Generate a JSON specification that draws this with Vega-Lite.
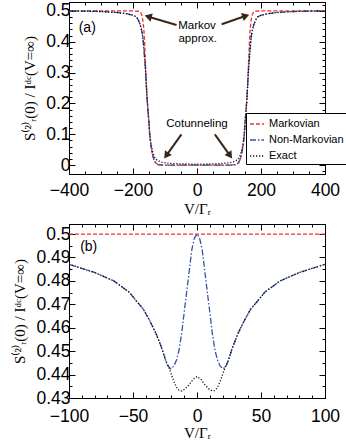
{
  "$schema": "https://vega.github.io/schema/vega-lite/v6.json",
  "padding": {"left": 12, "top": 1, "right": 0, "bottom": 0},
  "background": "white",
  "spacing": 6,
  "datasets": {
    "top": [
      {"V": -400, "S": 0.5, "c": "Markovian"}, {"V": -300, "S": 0.5, "c": "Markovian"}, {"V": -200, "S": 0.5, "c": "Markovian"},
      {"V": -180, "S": 0.499, "c": "Markovian"}, {"V": -176, "S": 0.495, "c": "Markovian"}, {"V": -172, "S": 0.485, "c": "Markovian"},
      {"V": -169, "S": 0.468, "c": "Markovian"}, {"V": -166, "S": 0.44, "c": "Markovian"}, {"V": -164, "S": 0.403, "c": "Markovian"},
      {"V": -161, "S": 0.33, "c": "Markovian"}, {"V": -158.5, "S": 0.263, "c": "Markovian"}, {"V": -156, "S": 0.215, "c": "Markovian"},
      {"V": -153, "S": 0.175, "c": "Markovian"}, {"V": -150, "S": 0.135, "c": "Markovian"}, {"V": -148, "S": 0.1, "c": "Markovian"},
      {"V": -145, "S": 0.072, "c": "Markovian"}, {"V": -143, "S": 0.056, "c": "Markovian"}, {"V": -139, "S": 0.033, "c": "Markovian"},
      {"V": -135, "S": 0.019, "c": "Markovian"}, {"V": -130, "S": 0.008, "c": "Markovian"}, {"V": -122, "S": 0.002, "c": "Markovian"},
      {"V": -110, "S": 0.0005, "c": "Markovian"}, {"V": -100, "S": 0, "c": "Markovian"}, {"V": 0, "S": 0, "c": "Markovian"},
      {"V": 100, "S": 0, "c": "Markovian"}, {"V": 110, "S": 0.0005, "c": "Markovian"}, {"V": 122, "S": 0.002, "c": "Markovian"},
      {"V": 130, "S": 0.008, "c": "Markovian"}, {"V": 135, "S": 0.019, "c": "Markovian"}, {"V": 139, "S": 0.033, "c": "Markovian"},
      {"V": 143, "S": 0.056, "c": "Markovian"}, {"V": 145, "S": 0.072, "c": "Markovian"}, {"V": 148, "S": 0.1, "c": "Markovian"},
      {"V": 150, "S": 0.135, "c": "Markovian"}, {"V": 153, "S": 0.175, "c": "Markovian"}, {"V": 156, "S": 0.215, "c": "Markovian"},
      {"V": 158.5, "S": 0.263, "c": "Markovian"}, {"V": 161, "S": 0.33, "c": "Markovian"}, {"V": 164, "S": 0.403, "c": "Markovian"},
      {"V": 166, "S": 0.44, "c": "Markovian"}, {"V": 169, "S": 0.468, "c": "Markovian"}, {"V": 172, "S": 0.485, "c": "Markovian"},
      {"V": 176, "S": 0.495, "c": "Markovian"}, {"V": 180, "S": 0.499, "c": "Markovian"}, {"V": 200, "S": 0.5, "c": "Markovian"},
      {"V": 300, "S": 0.5, "c": "Markovian"}, {"V": 400, "S": 0.5, "c": "Markovian"},

      {"V": -400, "S": 0.5, "c": "Non-Markovian"}, {"V": -350, "S": 0.4995, "c": "Non-Markovian"}, {"V": -300, "S": 0.498, "c": "Non-Markovian"},
      {"V": -250, "S": 0.495, "c": "Non-Markovian"}, {"V": -220, "S": 0.491, "c": "Non-Markovian"}, {"V": -200, "S": 0.486, "c": "Non-Markovian"},
      {"V": -190, "S": 0.481, "c": "Non-Markovian"}, {"V": -184, "S": 0.472, "c": "Non-Markovian"}, {"V": -178, "S": 0.457, "c": "Non-Markovian"},
      {"V": -174, "S": 0.442, "c": "Non-Markovian"}, {"V": -170, "S": 0.42, "c": "Non-Markovian"}, {"V": -167, "S": 0.39, "c": "Non-Markovian"},
      {"V": -164, "S": 0.35, "c": "Non-Markovian"}, {"V": -161, "S": 0.31, "c": "Non-Markovian"}, {"V": -158.5, "S": 0.263, "c": "Non-Markovian"},
      {"V": -156, "S": 0.215, "c": "Non-Markovian"}, {"V": -153, "S": 0.175, "c": "Non-Markovian"}, {"V": -150, "S": 0.135, "c": "Non-Markovian"},
      {"V": -148, "S": 0.1, "c": "Non-Markovian"}, {"V": -145, "S": 0.07, "c": "Non-Markovian"}, {"V": -142, "S": 0.05, "c": "Non-Markovian"},
      {"V": -138, "S": 0.03, "c": "Non-Markovian"}, {"V": -134, "S": 0.016, "c": "Non-Markovian"}, {"V": -130, "S": 0.007, "c": "Non-Markovian"},
      {"V": -125, "S": 0.003, "c": "Non-Markovian"}, {"V": -120, "S": 0.001, "c": "Non-Markovian"}, {"V": -110, "S": 0, "c": "Non-Markovian"},
      {"V": 0, "S": 0, "c": "Non-Markovian"},
      {"V": 110, "S": 0, "c": "Non-Markovian"}, {"V": 120, "S": 0.001, "c": "Non-Markovian"}, {"V": 125, "S": 0.003, "c": "Non-Markovian"},
      {"V": 130, "S": 0.007, "c": "Non-Markovian"}, {"V": 134, "S": 0.016, "c": "Non-Markovian"}, {"V": 138, "S": 0.03, "c": "Non-Markovian"},
      {"V": 142, "S": 0.05, "c": "Non-Markovian"}, {"V": 145, "S": 0.07, "c": "Non-Markovian"}, {"V": 148, "S": 0.1, "c": "Non-Markovian"},
      {"V": 150, "S": 0.135, "c": "Non-Markovian"}, {"V": 153, "S": 0.175, "c": "Non-Markovian"}, {"V": 156, "S": 0.215, "c": "Non-Markovian"},
      {"V": 158.5, "S": 0.263, "c": "Non-Markovian"}, {"V": 161, "S": 0.31, "c": "Non-Markovian"}, {"V": 164, "S": 0.35, "c": "Non-Markovian"},
      {"V": 167, "S": 0.39, "c": "Non-Markovian"}, {"V": 170, "S": 0.42, "c": "Non-Markovian"}, {"V": 174, "S": 0.442, "c": "Non-Markovian"},
      {"V": 178, "S": 0.457, "c": "Non-Markovian"}, {"V": 184, "S": 0.472, "c": "Non-Markovian"}, {"V": 190, "S": 0.481, "c": "Non-Markovian"},
      {"V": 200, "S": 0.486, "c": "Non-Markovian"}, {"V": 220, "S": 0.491, "c": "Non-Markovian"}, {"V": 250, "S": 0.495, "c": "Non-Markovian"},
      {"V": 300, "S": 0.498, "c": "Non-Markovian"}, {"V": 350, "S": 0.4995, "c": "Non-Markovian"}, {"V": 400, "S": 0.5, "c": "Non-Markovian"},

      {"V": -400, "S": 0.5, "c": "Exact"}, {"V": -350, "S": 0.4995, "c": "Exact"}, {"V": -300, "S": 0.498, "c": "Exact"},
      {"V": -250, "S": 0.495, "c": "Exact"}, {"V": -220, "S": 0.491, "c": "Exact"}, {"V": -200, "S": 0.486, "c": "Exact"},
      {"V": -190, "S": 0.481, "c": "Exact"}, {"V": -184, "S": 0.472, "c": "Exact"}, {"V": -178, "S": 0.457, "c": "Exact"},
      {"V": -174, "S": 0.442, "c": "Exact"}, {"V": -170, "S": 0.42, "c": "Exact"}, {"V": -167, "S": 0.39, "c": "Exact"},
      {"V": -164, "S": 0.35, "c": "Exact"}, {"V": -161, "S": 0.31, "c": "Exact"}, {"V": -158.5, "S": 0.263, "c": "Exact"},
      {"V": -156, "S": 0.216, "c": "Exact"}, {"V": -153, "S": 0.177, "c": "Exact"}, {"V": -150, "S": 0.138, "c": "Exact"},
      {"V": -148, "S": 0.106, "c": "Exact"}, {"V": -145, "S": 0.079, "c": "Exact"}, {"V": -142, "S": 0.06, "c": "Exact"},
      {"V": -138, "S": 0.042, "c": "Exact"}, {"V": -134, "S": 0.029, "c": "Exact"}, {"V": -130, "S": 0.021, "c": "Exact"},
      {"V": -125, "S": 0.016, "c": "Exact"}, {"V": -117, "S": 0.012, "c": "Exact"}, {"V": -110, "S": 0.0095, "c": "Exact"},
      {"V": -100, "S": 0.0075, "c": "Exact"}, {"V": -90, "S": 0.0062, "c": "Exact"}, {"V": -75, "S": 0.005, "c": "Exact"},
      {"V": -50, "S": 0.0038, "c": "Exact"}, {"V": -25, "S": 0.0032, "c": "Exact"}, {"V": 0, "S": 0.003, "c": "Exact"},
      {"V": 25, "S": 0.0032, "c": "Exact"}, {"V": 50, "S": 0.0038, "c": "Exact"}, {"V": 75, "S": 0.005, "c": "Exact"},
      {"V": 90, "S": 0.0062, "c": "Exact"}, {"V": 100, "S": 0.0075, "c": "Exact"}, {"V": 110, "S": 0.0095, "c": "Exact"},
      {"V": 117, "S": 0.012, "c": "Exact"}, {"V": 125, "S": 0.016, "c": "Exact"}, {"V": 130, "S": 0.021, "c": "Exact"},
      {"V": 134, "S": 0.029, "c": "Exact"}, {"V": 138, "S": 0.042, "c": "Exact"}, {"V": 142, "S": 0.06, "c": "Exact"},
      {"V": 145, "S": 0.079, "c": "Exact"}, {"V": 148, "S": 0.106, "c": "Exact"}, {"V": 150, "S": 0.138, "c": "Exact"},
      {"V": 153, "S": 0.177, "c": "Exact"}, {"V": 156, "S": 0.216, "c": "Exact"}, {"V": 158.5, "S": 0.263, "c": "Exact"},
      {"V": 161, "S": 0.31, "c": "Exact"}, {"V": 164, "S": 0.35, "c": "Exact"}, {"V": 167, "S": 0.39, "c": "Exact"},
      {"V": 170, "S": 0.42, "c": "Exact"}, {"V": 174, "S": 0.442, "c": "Exact"}, {"V": 178, "S": 0.457, "c": "Exact"},
      {"V": 184, "S": 0.472, "c": "Exact"}, {"V": 190, "S": 0.481, "c": "Exact"}, {"V": 200, "S": 0.486, "c": "Exact"},
      {"V": 220, "S": 0.491, "c": "Exact"}, {"V": 250, "S": 0.495, "c": "Exact"}, {"V": 300, "S": 0.498, "c": "Exact"},
      {"V": 350, "S": 0.4995, "c": "Exact"}, {"V": 400, "S": 0.5, "c": "Exact"}
    ],
    "bottom": [
      {"V": -100, "S": 0.5, "c": "Markovian"}, {"V": 0, "S": 0.5, "c": "Markovian"}, {"V": 100, "S": 0.5, "c": "Markovian"},

      {"V": -100, "S": 0.4871, "c": "Non-Markovian"}, {"V": -80, "S": 0.4836, "c": "Non-Markovian"}, {"V": -65, "S": 0.48, "c": "Non-Markovian"},
      {"V": -53, "S": 0.4752, "c": "Non-Markovian"}, {"V": -47, "S": 0.4712, "c": "Non-Markovian"}, {"V": -42, "S": 0.468, "c": "Non-Markovian"},
      {"V": -37, "S": 0.4631, "c": "Non-Markovian"}, {"V": -32, "S": 0.4575, "c": "Non-Markovian"}, {"V": -28, "S": 0.452, "c": "Non-Markovian"},
      {"V": -25, "S": 0.447, "c": "Non-Markovian"}, {"V": -23, "S": 0.444, "c": "Non-Markovian"}, {"V": -20.5, "S": 0.4424, "c": "Non-Markovian"},
      {"V": -18, "S": 0.4437, "c": "Non-Markovian"}, {"V": -16, "S": 0.4462, "c": "Non-Markovian"}, {"V": -14, "S": 0.4505, "c": "Non-Markovian"},
      {"V": -12, "S": 0.4575, "c": "Non-Markovian"}, {"V": -10, "S": 0.4666, "c": "Non-Markovian"}, {"V": -8, "S": 0.4755, "c": "Non-Markovian"},
      {"V": -6, "S": 0.4845, "c": "Non-Markovian"}, {"V": -4, "S": 0.4935, "c": "Non-Markovian"}, {"V": -2, "S": 0.4983, "c": "Non-Markovian"},
      {"V": 0, "S": 0.5, "c": "Non-Markovian"},
      {"V": 2, "S": 0.4983, "c": "Non-Markovian"}, {"V": 4, "S": 0.4935, "c": "Non-Markovian"}, {"V": 6, "S": 0.4845, "c": "Non-Markovian"},
      {"V": 8, "S": 0.4755, "c": "Non-Markovian"}, {"V": 10, "S": 0.4666, "c": "Non-Markovian"}, {"V": 12, "S": 0.4575, "c": "Non-Markovian"},
      {"V": 14, "S": 0.4505, "c": "Non-Markovian"}, {"V": 16, "S": 0.4462, "c": "Non-Markovian"}, {"V": 18, "S": 0.4437, "c": "Non-Markovian"},
      {"V": 20.5, "S": 0.4424, "c": "Non-Markovian"}, {"V": 23, "S": 0.444, "c": "Non-Markovian"}, {"V": 25, "S": 0.447, "c": "Non-Markovian"},
      {"V": 28, "S": 0.452, "c": "Non-Markovian"}, {"V": 32, "S": 0.4575, "c": "Non-Markovian"}, {"V": 37, "S": 0.4631, "c": "Non-Markovian"},
      {"V": 42, "S": 0.468, "c": "Non-Markovian"}, {"V": 47, "S": 0.4712, "c": "Non-Markovian"}, {"V": 53, "S": 0.4752, "c": "Non-Markovian"},
      {"V": 65, "S": 0.48, "c": "Non-Markovian"}, {"V": 80, "S": 0.4836, "c": "Non-Markovian"}, {"V": 100, "S": 0.4871, "c": "Non-Markovian"},

      {"V": -100, "S": 0.4871, "c": "Exact"}, {"V": -80, "S": 0.4836, "c": "Exact"}, {"V": -65, "S": 0.48, "c": "Exact"},
      {"V": -53, "S": 0.4752, "c": "Exact"}, {"V": -47, "S": 0.4712, "c": "Exact"}, {"V": -42, "S": 0.468, "c": "Exact"},
      {"V": -37, "S": 0.4631, "c": "Exact"}, {"V": -32, "S": 0.4575, "c": "Exact"}, {"V": -28, "S": 0.452, "c": "Exact"},
      {"V": -25, "S": 0.447, "c": "Exact"}, {"V": -24, "S": 0.4452, "c": "Exact"}, {"V": -22, "S": 0.4432, "c": "Exact"},
      {"V": -20, "S": 0.44, "c": "Exact"}, {"V": -18, "S": 0.437, "c": "Exact"}, {"V": -16, "S": 0.4345, "c": "Exact"},
      {"V": -14, "S": 0.4332, "c": "Exact"}, {"V": -12, "S": 0.433, "c": "Exact"}, {"V": -9, "S": 0.434, "c": "Exact"},
      {"V": -6, "S": 0.4358, "c": "Exact"}, {"V": -3, "S": 0.438, "c": "Exact"}, {"V": 0, "S": 0.4392, "c": "Exact"},
      {"V": 3, "S": 0.438, "c": "Exact"}, {"V": 6, "S": 0.4358, "c": "Exact"}, {"V": 9, "S": 0.434, "c": "Exact"},
      {"V": 12, "S": 0.433, "c": "Exact"}, {"V": 14, "S": 0.4332, "c": "Exact"}, {"V": 16, "S": 0.4345, "c": "Exact"},
      {"V": 18, "S": 0.437, "c": "Exact"}, {"V": 20, "S": 0.44, "c": "Exact"}, {"V": 22, "S": 0.4432, "c": "Exact"},
      {"V": 24, "S": 0.4452, "c": "Exact"}, {"V": 25, "S": 0.447, "c": "Exact"}, {"V": 28, "S": 0.452, "c": "Exact"},
      {"V": 32, "S": 0.4575, "c": "Exact"}, {"V": 37, "S": 0.4631, "c": "Exact"}, {"V": 42, "S": 0.468, "c": "Exact"},
      {"V": 47, "S": 0.4712, "c": "Exact"}, {"V": 53, "S": 0.4752, "c": "Exact"}, {"V": 65, "S": 0.48, "c": "Exact"},
      {"V": 80, "S": 0.4836, "c": "Exact"}, {"V": 100, "S": 0.4871, "c": "Exact"}
    ],
    "arrows": [
      {"x": -64, "y": 0.4545, "x2": -149, "y2": 0.4805, "dir": "ul"},
      {"x": 77, "y": 0.4568, "x2": 149, "y2": 0.4828, "dir": "ur"},
      {"x": -48.6, "y": 0.0997, "x2": -93.8, "y2": 0.034, "dir": "dl"},
      {"x": 55.8, "y": 0.0997, "x2": 101, "y2": 0.034, "dir": "dr"}
    ],
    "labelsTop": [
      {"x": 0, "y": 0.451, "t": "Markov"},
      {"x": 2, "y": 0.409, "t": "approx."},
      {"x": 0, "y": 0.133, "t": "Cotunneling"}
    ]
  },
  "vconcat": [
    {
      "width": 256,
      "height": 172,
      "layer": [
        {
          "data": {"name": "top"},
          "mark": {"type": "line", "strokeWidth": 1.3, "clip": true},
          "encoding": {
            "x": {"field": "V", "type": "quantitative", "title": "V/Γᵣ",
              "scale": {"domain": [-400, 400], "nice": false, "zero": false},
              "axis": {"values": [-400, -350, -300, -250, -200, -150, -100, -50, 0, 50, 100, 150, 200, 250, 300, 350, 400],
                "labelExpr": "datum.value % 200 === 0 ? datum.label : ''",
                "tickSize": {"condition": {"test": "datum.value % 200 === 0", "value": -6}, "value": -3},
                "labelPadding": 13, "labelFlush": false, "labelOverlap": false, "titlePadding": 0}},
            "y": {"field": "S", "type": "quantitative", "title": "S⁽²⁾ᵣ(0) / Iᵈᶜ(V=∞)",
              "scale": {"domain": [-0.029, 0.529], "nice": false, "zero": false},
              "axis": {"values": [0, 0.02, 0.04, 0.06, 0.08, 0.1, 0.12, 0.14, 0.16, 0.18, 0.2, 0.22, 0.24, 0.26, 0.28, 0.3, 0.32, 0.34, 0.36, 0.38, 0.4, 0.42, 0.44, 0.46, 0.48, 0.5],
                "format": ".2~f",
                "labelExpr": "abs(datum.value * 10 - round(datum.value * 10)) < 0.001 ? datum.label : ''",
                "tickSize": {"condition": {"test": "abs(datum.value * 10 - round(datum.value * 10)) < 0.001", "value": -6}, "value": -3},
                "labelPadding": 5, "labelOverlap": false, "titlePadding": 8}},
            "color": {"field": "c", "type": "nominal",
              "scale": {"domain": ["Markovian", "Non-Markovian", "Exact"], "range": ["#ee3232", "#3553a8", "#111111"]},
              "legend": {"title": null, "orient": "none", "legendX": 177, "legendY": 111}},
            "strokeDash": {"field": "c", "type": "nominal",
              "scale": {"domain": ["Markovian", "Non-Markovian", "Exact"], "range": [[4, 2], [6, 2, 1.5, 2], [1.2, 1.8]]},
              "legend": {"title": null, "orient": "none", "legendX": 177, "legendY": 111}}
          }
        },
        {
          "data": {"name": "top"},
          "mark": {"type": "line", "opacity": 0},
          "encoding": {
            "x": {"field": "V", "type": "quantitative",
              "axis": {"orient": "top", "title": null, "labels": false, "values": [-400, -350, -300, -250, -200, -150, -100, -50, 0, 50, 100, 150, 200, 250, 300, 350, 400],
                "tickSize": {"condition": {"test": "datum.value % 200 === 0", "value": -6}, "value": -3}}},
            "y": {"field": "S", "type": "quantitative",
              "axis": {"orient": "right", "title": null, "labels": false, "values": [-0.02, 0, 0.02, 0.04, 0.06, 0.08, 0.1, 0.12, 0.14, 0.16, 0.18, 0.2, 0.22, 0.24, 0.26, 0.28, 0.3, 0.32, 0.34, 0.36, 0.38, 0.4, 0.42, 0.44, 0.46, 0.48, 0.5, 0.52],
                "tickSize": {"condition": {"test": "abs(datum.value * 10 - round(datum.value * 10)) < 0.001", "value": -6}, "value": -3}}}
          }
        },
        {
          "data": {"name": "arrows"},
          "mark": {"type": "rule", "color": "#3a2618", "strokeWidth": 2},
          "encoding": {
            "x": {"field": "x", "type": "quantitative", "axis": null},
            "y": {"field": "y", "type": "quantitative", "axis": null},
            "x2": {"field": "x2"},
            "y2": {"field": "y2"}
          }
        },
        {
          "data": {"name": "arrows"},
          "transform": [{"filter": "datum.dir === 'ul'"}],
          "mark": {"type": "point", "shape": "triangle", "filled": true, "color": "#3a2618", "size": 70, "angle": 286, "opacity": 1},
          "encoding": {"x": {"field": "x2", "type": "quantitative", "axis": null}, "y": {"field": "y2", "type": "quantitative", "axis": null}}
        },
        {
          "data": {"name": "arrows"},
          "transform": [{"filter": "datum.dir === 'ur'"}],
          "mark": {"type": "point", "shape": "triangle", "filled": true, "color": "#3a2618", "size": 70, "angle": 71, "opacity": 1},
          "encoding": {"x": {"field": "x2", "type": "quantitative", "axis": null}, "y": {"field": "y2", "type": "quantitative", "axis": null}}
        },
        {
          "data": {"name": "arrows"},
          "transform": [{"filter": "datum.dir === 'dl'"}],
          "mark": {"type": "point", "shape": "triangle", "filled": true, "color": "#3a2618", "size": 70, "angle": 215, "opacity": 1},
          "encoding": {"x": {"field": "x2", "type": "quantitative", "axis": null}, "y": {"field": "y2", "type": "quantitative", "axis": null}}
        },
        {
          "data": {"name": "arrows"},
          "transform": [{"filter": "datum.dir === 'dr'"}],
          "mark": {"type": "point", "shape": "triangle", "filled": true, "color": "#3a2618", "size": 70, "angle": 145, "opacity": 1},
          "encoding": {"x": {"field": "x2", "type": "quantitative", "axis": null}, "y": {"field": "y2", "type": "quantitative", "axis": null}}
        },
        {
          "data": {"name": "labelsTop"},
          "mark": {"type": "text", "font": "Liberation Sans", "fontSize": 11.5, "color": "black", "align": "center", "baseline": "middle"},
          "encoding": {
            "x": {"field": "x", "type": "quantitative", "axis": null},
            "y": {"field": "y", "type": "quantitative", "axis": null},
            "text": {"field": "t"}
          }
        },
        {
          "data": {"values": [{"x": -343, "y": 0.445, "t": "(a)"}]},
          "mark": {"type": "text", "font": "Liberation Sans", "fontSize": 14, "color": "black", "align": "center", "baseline": "middle"},
          "encoding": {
            "x": {"field": "x", "type": "quantitative", "axis": null},
            "y": {"field": "y", "type": "quantitative", "axis": null},
            "text": {"field": "t"}
          }
        }
      ],
      "resolve": {"axis": {"x": "independent", "y": "independent"}}
    },
    {
      "width": 256,
      "height": 174,
      "layer": [
        {
          "data": {"name": "bottom"},
          "mark": {"type": "line", "strokeWidth": 1.3, "clip": true},
          "encoding": {
            "x": {"field": "V", "type": "quantitative", "title": "V/Γᵣ",
              "scale": {"domain": [-100, 100], "nice": false, "zero": false},
              "axis": {"values": [-100, -90, -80, -70, -60, -50, -40, -30, -20, -10, 0, 10, 20, 30, 40, 50, 60, 70, 80, 90, 100],
                "labelExpr": "datum.value % 50 === 0 ? datum.label : ''",
                "tickSize": {"condition": {"test": "datum.value % 50 === 0", "value": -6}, "value": -3},
                "labelPadding": 15, "labelFlush": false, "labelOverlap": false, "titlePadding": -2}},
            "y": {"field": "S", "type": "quantitative", "title": "S⁽²⁾ᵣ(0) / Iᵈᶜ(V=∞)",
              "scale": {"domain": [0.43, 0.5043], "nice": false, "zero": false},
              "axis": {"values": [0.43, 0.435, 0.44, 0.445, 0.45, 0.455, 0.46, 0.465, 0.47, 0.475, 0.48, 0.485, 0.49, 0.495, 0.5],
                "format": ".2~f",
                "labelExpr": "abs(datum.value * 100 - round(datum.value * 100)) < 0.01 ? datum.label : ''",
                "tickSize": {"condition": {"test": "abs(datum.value * 100 - round(datum.value * 100)) < 0.01", "value": -6}, "value": -3},
                "labelPadding": 5, "labelOverlap": false, "titlePadding": 8}},
            "color": {"field": "c", "type": "nominal",
              "scale": {"domain": ["Markovian", "Non-Markovian", "Exact"], "range": ["#ee3232", "#3553a8", "#111111"]},
              "legend": {"title": null, "orient": "none", "legendX": 177, "legendY": 111}},
            "strokeDash": {"field": "c", "type": "nominal",
              "scale": {"domain": ["Markovian", "Non-Markovian", "Exact"], "range": [[4, 2], [6, 2, 1.5, 2], [1.2, 1.8]]},
              "legend": {"title": null, "orient": "none", "legendX": 177, "legendY": 111}}
          }
        },
        {
          "data": {"name": "bottom"},
          "mark": {"type": "line", "opacity": 0},
          "encoding": {
            "x": {"field": "V", "type": "quantitative",
              "axis": {"orient": "top", "title": null, "labels": false, "values": [-100, -90, -80, -70, -60, -50, -40, -30, -20, -10, 0, 10, 20, 30, 40, 50, 60, 70, 80, 90, 100],
                "tickSize": {"condition": {"test": "datum.value % 50 === 0", "value": -6}, "value": -3}}},
            "y": {"field": "S", "type": "quantitative",
              "axis": {"orient": "right", "title": null, "labels": false, "values": [0.43, 0.435, 0.44, 0.445, 0.45, 0.455, 0.46, 0.465, 0.47, 0.475, 0.48, 0.485, 0.49, 0.495, 0.5],
                "tickSize": {"condition": {"test": "abs(datum.value * 100 - round(datum.value * 100)) < 0.01", "value": -6}, "value": -3}}}
          }
        },
        {
          "data": {"values": [{"x": -84.6, "y": 0.4944, "t": "(b)"}]},
          "mark": {"type": "text", "font": "Liberation Sans", "fontSize": 14, "color": "black", "align": "center", "baseline": "middle"},
          "encoding": {
            "x": {"field": "x", "type": "quantitative", "axis": null},
            "y": {"field": "y", "type": "quantitative", "axis": null},
            "text": {"field": "t"}
          }
        }
      ],
      "resolve": {"axis": {"x": "independent", "y": "independent"}}
    }
  ],
  "config": {
    "view": {"stroke": "black", "strokeWidth": 1},
    "axis": {"domainColor": "black", "tickColor": "black", "grid": false,
      "labelFont": "Liberation Sans", "labelFontSize": 17.5, "labelColor": "black",
      "titleFont": "Liberation Serif", "titleFontWeight": "normal", "titleFontSize": 15, "titleColor": "black"},
    "legend": {"symbolType": "stroke", "symbolSize": 196, "symbolStrokeWidth": 1.3,
      "labelFont": "Liberation Sans", "labelFontSize": 11, "labelColor": "black",
      "strokeColor": "black", "fillColor": "white", "padding": 3, "rowPadding": 3, "labelOffset": 4}
  }
}
